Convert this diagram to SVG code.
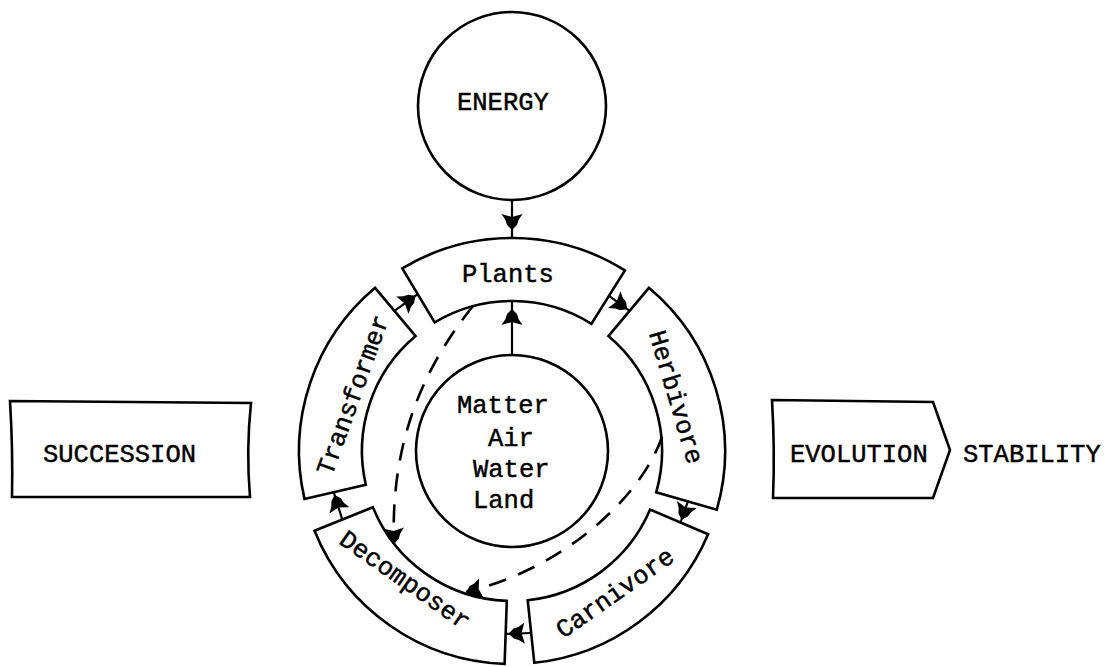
<svg xmlns="http://www.w3.org/2000/svg" width="1111" height="667" viewBox="0 0 1111 667">
  <style>
    .shape { fill: #fff; stroke: #000; stroke-width: 2.6; stroke-linejoin: miter; }
    .link { fill: none; stroke: #000; stroke-width: 2.2; }
    .dash { fill: none; stroke: #000; stroke-width: 2.6; stroke-dasharray: 18 13; }
    .lbl { font-family: "Liberation Mono", "Courier New", monospace; font-size: 25.5px; fill: #000; stroke: #000; stroke-width: 0.45; }
  </style>
  <defs>
    <!-- flared dart head, tip drawn a little short of the line end -->
    <path id="dart" d="M0,0 L-5,-5 L-10,-6.5 L-16,-10.5 L-13,0 L-16,10.5 L-10,6.5 L-5,5 Z" fill="#000"/>
    <marker id="head" viewBox="-18 -12 30 24" markerWidth="30" markerHeight="24" refX="8" refY="0" orient="auto" markerUnits="userSpaceOnUse">
      <use href="#dart"/>
    </marker>
    <marker id="headGap" viewBox="-18 -12 30 24" markerWidth="30" markerHeight="24" refX="3" refY="0" orient="auto" markerUnits="userSpaceOnUse">
      <use href="#dart"/>
    </marker>
    <marker id="headEnd" viewBox="-18 -12 30 24" markerWidth="30" markerHeight="24" refX="0" refY="0" orient="auto" markerUnits="userSpaceOnUse">
      <use href="#dart"/>
    </marker>
  </defs>

  <!-- energy source -->
  <g id="energy">
    <circle class="shape" cx="512" cy="106" r="94"/>
    <text class="lbl" x="457" y="110">ENERGY</text>
  </g>

  <!-- ring of trophic segments, centre (512,451), radii 150/213 -->
  <g id="plants">
    <path class="shape" d="M402.3,268.4 A213,213 0 0 1 624.9,270.4 L591.5,323.8 A150,150 0 0 0 434.7,322.4 Z"/>
    <text class="lbl" x="462" y="282">Plants</text>
  </g>
  <g id="herbivore">
    <path class="shape" d="M648.9,287.8 A213,213 0 0 1 716.8,509.7 L656.2,492.3 A150,150 0 0 0 608.4,336.1 Z"/>
    <text class="lbl" transform="translate(676,397) rotate(73.5)" text-anchor="middle" y="8">Herbivore</text>
  </g>
  <g id="carnivore">
    <path class="shape" d="M708.1,534.2 A213,213 0 0 1 534.3,662.8 L527.7,600.2 A150,150 0 0 0 650.1,509.6 Z"/>
    <text class="lbl" transform="translate(615,593) rotate(-35)" text-anchor="middle" y="8">Carnivore</text>
  </g>
  <g id="decomposer">
    <path class="shape" d="M504.6,663.9 A213,213 0 0 1 314.5,530.8 L372.9,507.2 A150,150 0 0 0 506.8,600.9 Z"/>
    <text class="lbl" transform="translate(405,580) rotate(35)" text-anchor="middle" y="8">Decomposer</text>
  </g>
  <g id="transformer">
    <path class="shape" d="M304.5,498.9 A213,213 0 0 1 375.1,287.8 L415.6,336.1 A150,150 0 0 0 365.8,484.7 Z"/>
    <text class="lbl" transform="translate(353,395) rotate(-70)" text-anchor="middle" y="8">Transformer</text>
  </g>

  <!-- abiotic core -->
  <g id="matter">
    <circle class="shape" cx="512" cy="451" r="96"/>
    <text class="lbl" x="457" y="413">Matter</text>
    <text class="lbl" x="488" y="446">Air</text>
    <text class="lbl" x="473" y="477">Water</text>
    <text class="lbl" x="473" y="508">Land</text>
  </g>

  <!-- side processes -->
  <g id="succession">
    <path class="shape" d="M10,401 L251,403 Q246,450 250,497 L12,497 Q13,450 10,401 Z"/>
    <text class="lbl" x="43" y="462">SUCCESSION</text>
  </g>
  <g id="evolution">
    <path class="shape" d="M772,400 L933,402 L950,450 L933,498 L773,498 Q775,450 772,400 Z"/>
    <text class="lbl" x="790" y="462">EVOLUTION</text>
  </g>
  <g id="stability">
    <text class="lbl" x="963" y="462">STABILITY</text>
  </g>

  <!-- flows -->
  <g id="connectors">
    <line class="link" x1="512" y1="200" x2="512" y2="238" marker-end="url(#head)"/>
    <line class="link" x1="512" y1="355" x2="512" y2="301" marker-end="url(#head)"/>
    <line class="link" x1="394.4" y1="310.8" x2="417.8" y2="294.1" marker-end="url(#headGap)"/>
    <line class="link" x1="609.0" y1="295.8" x2="629.6" y2="310.8" marker-end="url(#headGap)"/>
    <line class="link" x1="687.9" y1="501.4" x2="680.5" y2="522.5" marker-end="url(#headGap)"/>
    <line class="link" x1="531.1" y1="633.0" x2="505.6" y2="633.9" marker-end="url(#headGap)"/>
    <line class="link" x1="342.3" y1="519.6" x2="333.7" y2="492.2" marker-end="url(#headGap)"/>
    <path class="dash" d="M473,306 C428,362 390,436 394,544" marker-end="url(#headEnd)"/>
    <path class="dash" d="M662,437 C640,500 560,570 466,592" marker-end="url(#headEnd)"/>
  </g>
</svg>
